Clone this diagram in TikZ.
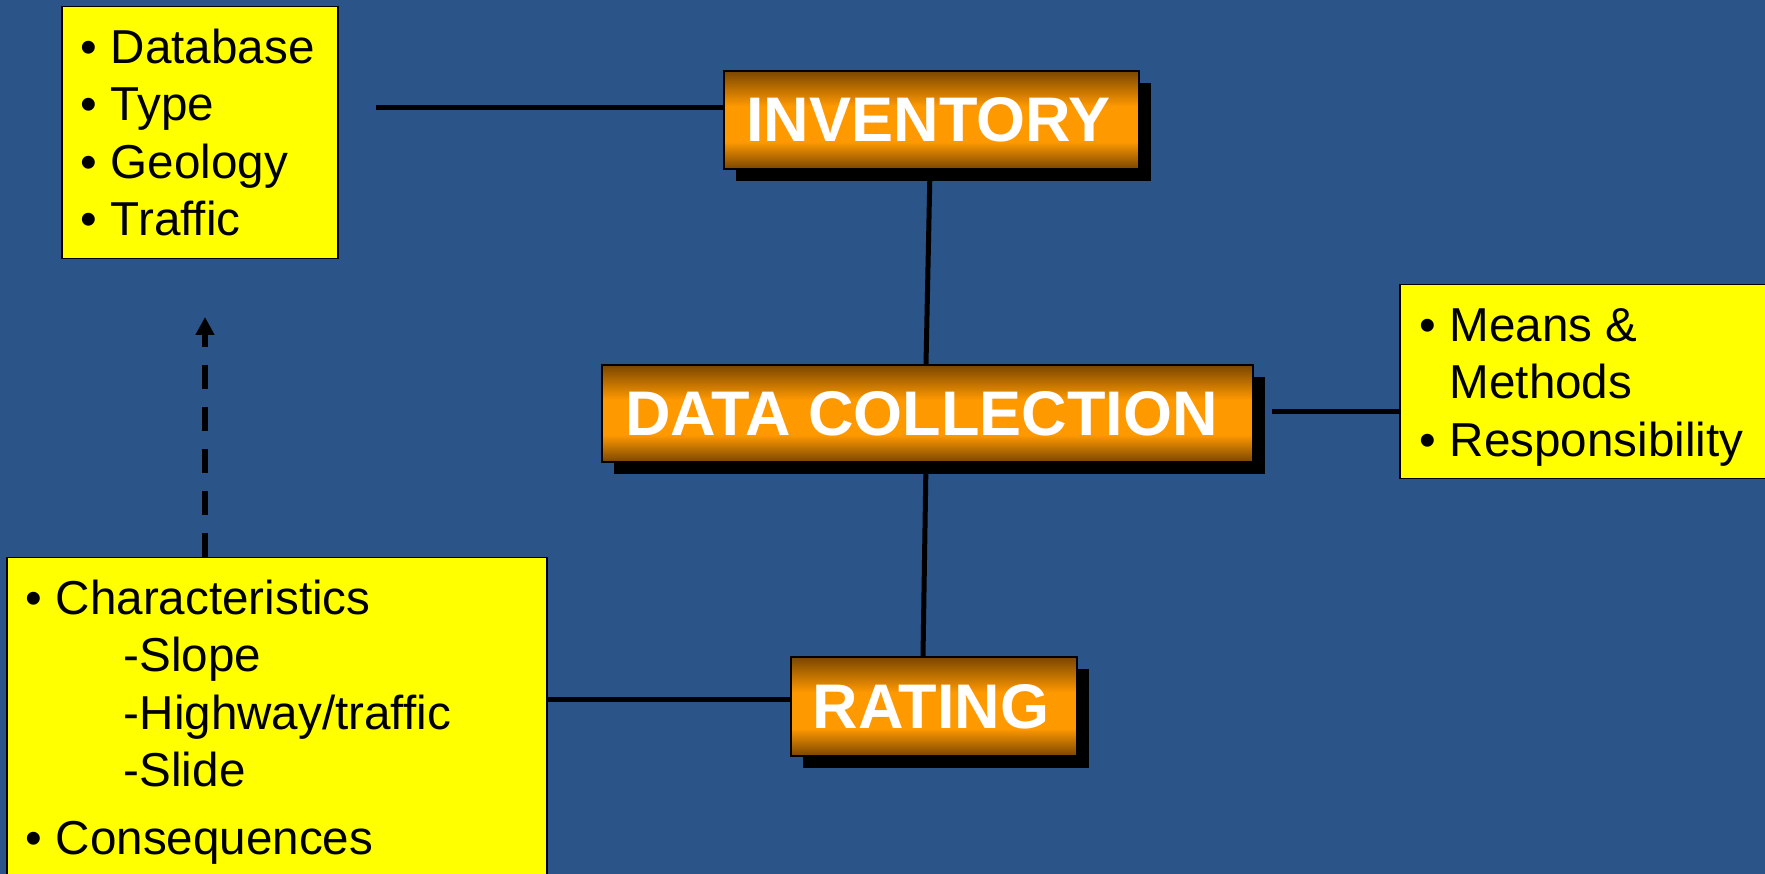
\documentclass[tikz,border=0pt]{standalone}
\usepackage{fontspec}
\setmainfont{Liberation Sans}
\usetikzlibrary{shadows,arrows.meta}
\definecolor{bgblue}{RGB}{43,84,136}
\definecolor{odark}{RGB}{122,70,0}
\definecolor{omid}{RGB}{255,153,0}
\definecolor{byellow}{RGB}{255,255,0}
\pgfdeclareverticalshading{orangebar}{100bp}{color(0bp)=(odark); color(25bp)=(odark); color(39bp)=(omid); color(57bp)=(omid); color(75bp)=(odark); color(100bp)=(odark)}
\newcommand{\bul}{\llap{•\hspace{13.5pt}}}
\begin{document}
\begin{tikzpicture}[x=1pt,y=1pt,
  titlebox/.style={draw=black, line width=1.2pt, shade, shading=orangebar, text=white,
    font=\fontsize{63}{70}\selectfont\bfseries, inner sep=0pt,
    drop shadow={shadow xshift=11.5pt, shadow yshift=-12pt, fill=black, opacity=1}},
  ybox/.style={draw=black, line width=1.5pt, fill=byellow, inner sep=0pt, anchor=north west},
  btext/.style={anchor=north west, inner sep=0pt, align=left, text=black,
    font=\fontsize{47.6}{57.5}\selectfont},
  conn/.style={line width=5pt, draw=black}]
\useasboundingbox (0,0) rectangle (1765,874);
\clip (0,0) rectangle (1765,874);
\fill[bgblue] (0,0) rectangle (1765,874);

% yellow boxes
\node[ybox, minimum width=276pt, minimum height=252pt] (tlbox) at (61,868) {};
\node[ybox, minimum width=380pt, minimum height=194pt] (rbox) at (1399,590) {};
\node[ybox, minimum width=540pt, minimum height=330pt] (blbox) at (6,317) {};

\node[btext] (tltext) at (110.7,851) {\rule{0pt}{40pt}\bul Database\\\bul Type\\\bul Geology\\\bul Traffic};
\node[btext] (rtext) at (1449.5,573) {\rule{0pt}{40pt}\bul Means \&\\Methods\\\bul Responsibility};
\node[btext] (bltext) at (55.6,300) {\rule{0pt}{40pt}\bul Characteristics\\\hspace*{68pt}-Slope\\\hspace*{68pt}-Highway/traffic\\\hspace*{68pt}-Slide\\[10.5pt]\bul Consequences};

% title boxes
\node[titlebox, minimum width=415pt, minimum height=98pt] (inv) at (931.5,754) {\hspace*{-6pt}INVENTORY};
\node[titlebox, minimum width=651pt, minimum height=97pt] (dc) at (927.5,460.5) {\hspace*{-12pt}DATA COLLECTION};
\node[titlebox, minimum width=286pt, minimum height=99pt] (rat) at (934,167.5) {\hspace*{-6pt}RATING};

% connectors
\coordinate (c1) at (376,766);
\draw[conn] (c1) -- (c1 -| inv.west);
\draw[conn] ([xshift=-1.5pt]inv.south) -- ([xshift=-1.5pt]dc.north);
\draw[conn] ([xshift=-1.5pt]dc.south) -- ([xshift=-11pt]rat.north);
\coordinate (c2) at (1272,462);
\draw[conn] (c2) -- (c2 -| rbox.west);
\coordinate (c3) at ([yshift=6.5pt]rat.west);
\draw[conn] (c3 -| blbox.east) -- (c3);
\coordinate (tip) at (205,557);
\draw[line width=6pt, draw=black, dash pattern=on 24pt off 18pt, -{Triangle[length=18pt,width=18pt]}] (tip |- blbox.north) -- (tip);
\end{tikzpicture}
\end{document}
